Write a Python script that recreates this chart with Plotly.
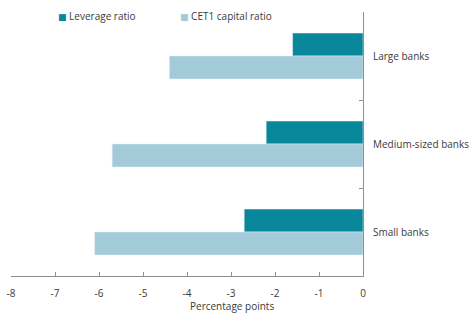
import plotly.graph_objects as go

categories = ["Large banks", "Medium-sized banks", "Small banks"]
leverage = [-1.6, -2.2, -2.7]
cet1 = [-4.4, -5.7, -6.1]
x_ticks = [-8, -7, -6, -5, -4, -3, -2, -1, 0]
x_tick_labels = ["-8", "-7", "-6", "-5", "-4", "-3", "-2", "-1", "0"]

C_LEV = "#08879b"
C_CET = "#a3cad9"
AXIS = "#8f8f8f"
TXT = "#3a3a3a"
FONT = "Open Sans"
FS = 10


def swatch(color, label):
    return f"<span style='color:{color};font-family:DejaVu Sans;font-size:9px'>■</span> {label}"


fig = go.Figure()
fig.add_trace(go.Bar(y=categories, x=leverage, orientation="h", marker_color=C_LEV,
                     name="Leverage ratio", showlegend=False))
fig.add_trace(go.Bar(y=categories, x=cet1, orientation="h", marker_color=C_CET,
                     name="CET1 capital ratio", showlegend=False))
# legend entries: small square swatch drawn next to the label
fig.add_trace(go.Scatter(x=[None], y=[None], mode="markers", name=swatch(C_LEV, "Leverage ratio"),
                         marker=dict(size=1, color="rgba(0,0,0,0)", line=dict(width=0)),
                         legend="legend"))
fig.add_trace(go.Scatter(x=[None], y=[None], mode="markers", name=swatch(C_CET, "CET1 capital ratio"),
                         marker=dict(size=1, color="rgba(0,0,0,0)", line=dict(width=0)),
                         legend="legend2"))

leg = dict(orientation="h", xanchor="left", y=0.985, yanchor="middle",
           bgcolor="rgba(0,0,0,0)", font=dict(size=FS, color=TXT), itemwidth=30)

fig.update_layout(
    width=472, height=315,
    margin=dict(l=11, r=109, t=12, b=39, autoexpand=False),
    paper_bgcolor="white", plot_bgcolor="white",
    font=dict(family=FONT, size=FS, color=TXT),
    barmode="group", bargap=0.48, bargroupgap=0,
    legend=dict(leg, x=0.0199),
    legend2=dict(leg, x=0.3665),
    xaxis=dict(range=[-8, 0], tickvals=x_ticks, ticktext=x_tick_labels,
               ticks="inside", ticklen=4, tickcolor=AXIS, showline=True, linecolor=AXIS,
               linewidth=1, showgrid=False, zeroline=False, automargin=False,
               ticklabelstandoff=8, tickfont=dict(size=FS, color=TXT)),
    yaxis=dict(type="category", autorange="reversed", side="right", ticks="inside",
               tickson="boundaries", ticklen=4, tickcolor=AXIS, showline=True,
               linecolor=AXIS, linewidth=1, showgrid=False, zeroline=False,
               ticklabelstandoff=7, automargin=False, tickfont=dict(size=FS, color=TXT)),
    annotations=[dict(text="Percentage points", xref="paper", yref="paper",
                      x=0.629, y=-0.114, xanchor="center", yanchor="middle",
                      showarrow=False, font=dict(size=FS, color=TXT))],
)

fig.write_html("out.html")
